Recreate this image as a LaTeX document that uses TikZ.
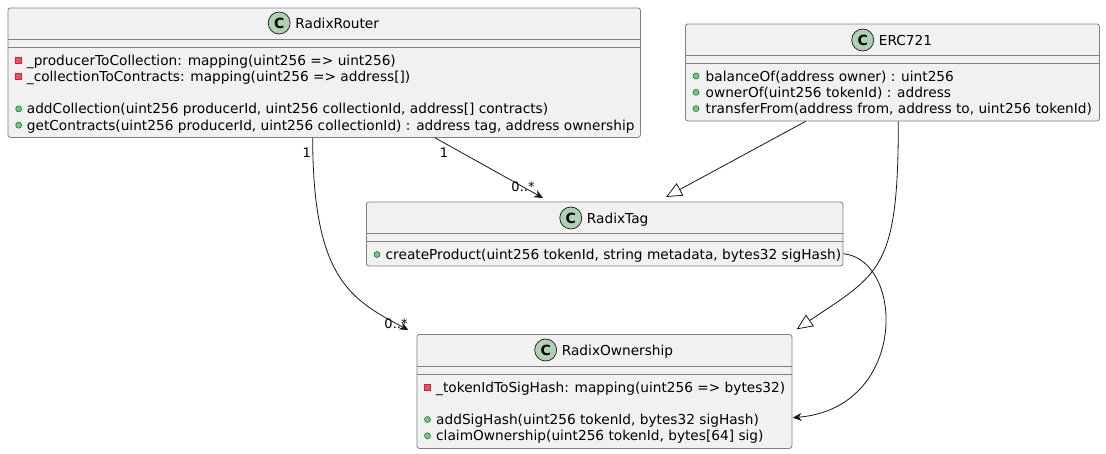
\documentclass[tikz,border=0pt]{standalone}
\usepackage{fontspec}
\setmainfont{DejaVu Sans}
\usetikzlibrary{arrows.meta,calc}
\definecolor{boxfill}{HTML}{F1F1F1}
\definecolor{boxline}{HTML}{808080}
\definecolor{edgeline}{HTML}{181818}
\definecolor{circfill}{HTML}{ADD1B2}
\definecolor{privfill}{HTML}{F24D5C}
\definecolor{privline}{HTML}{C82930}
\definecolor{pubfill}{HTML}{84BE84}
\definecolor{publine}{HTML}{038048}
\begin{document}
\begin{tikzpicture}[x=1pt,y=-1pt,
 classbox/.style={draw=boxline, fill=boxfill, line width=0.8pt, rounded corners=2.5pt, inner sep=0pt, anchor=north west},
 sepline/.style={draw=boxline, line width=0.8pt},
 ctitle/.style={inner sep=0pt, anchor=base, font=\fontsize{13.7}{16}\selectfont},
 cmark/.style={circle, draw=edgeline, fill=circfill, line width=0.7pt, minimum size=22pt, inner sep=0pt, font=\bfseries\fontsize{14}{16}\selectfont},
 member/.style={inner sep=0pt, anchor=base west, font=\fontsize{13.7}{16}\selectfont},
 privmark/.style={rectangle, draw=privline, fill=privfill, line width=0.6pt, minimum size=6pt, inner sep=0pt},
 pubmark/.style={circle, draw=publine, fill=pubfill, line width=0.6pt, minimum size=6pt, inner sep=0pt},
 conn/.style={draw=edgeline, line width=0.8pt},
 elabel/.style={inner sep=0pt, font=\fontsize{13}{15}\selectfont},
 assoc/.style={conn, -{Stealth[length=9pt,width=8pt,inset=3pt]}},
 inherit/.style={conn, -{Triangle[open,length=16pt,width=14pt]}},
]
\useasboundingbox (0,0) rectangle (1106,453);
\fill[white] (0,0) rectangle (1106,453);

% ---------------- RadixRouter
\node[classbox, minimum width=632.5pt, minimum height=129.5pt] (router) at (7.5,7.5) {};
\node[ctitle] (routerT) at (337.2,28) {RadixRouter};
\node[cmark] (routerC) at ($(routerT.base west)+(-16,-5)$) {C};
\draw[sepline] ($(router.north west)+(0,31.5)$) -- ($(router.north east)+(0,31.5)$);
\draw[sepline] ($(router.north west)+(0,39.5)$) -- ($(router.north east)+(0,39.5)$);
\node[privmark] (rm1) at (18.7,60) {};
\node[member] (r1) at (26.7,65) {\_producerToCollection: mapping(uint256 => uint256)};
\node[privmark] (rm2) at (18.7,76.3) {};
\node[member] (r2) at (26.7,81.3) {\_collectionToContracts: mapping(uint256 => address[])};
\node[pubmark] (rm3) at (18.7,108.9) {};
\node[member] (r3) at (26.7,113.9) {addCollection(uint256 producerId, uint256 collectionId, address[] contracts)};
\node[pubmark] (rm4) at (18.7,125.2) {};
\node[member] (r4) at (26.7,130.2) {getContracts(uint256 producerId, uint256 collectionId) : address tag, address ownership};

% ---------------- ERC721
\node[classbox, minimum width=414pt, minimum height=97pt] (erc) at (685,23.5) {};
\node[ctitle] (ercT) at (905.5,45) {ERC721};
\node[cmark] (ercC) at ($(ercT.base west)+(-16,-5)$) {C};
\draw[sepline] ($(erc.north west)+(0,31.5)$) -- ($(erc.north east)+(0,31.5)$);
\draw[sepline] ($(erc.north west)+(0,39.5)$) -- ($(erc.north east)+(0,39.5)$);
\node[pubmark] (em1) at (696,76) {};
\node[member] (e1) at (705.5,81) {balanceOf(address owner) : uint256};
\node[pubmark] (em2) at (696,92.3) {};
\node[member] (e2) at (705.5,97.3) {ownerOf(uint256 tokenId) : address};
\node[pubmark] (em3) at (696,108.6) {};
\node[member] (e3) at (705.5,113.6) {transferFrom(address from, address to, uint256 tokenId)};

% ---------------- RadixTag
\node[classbox, minimum width=476.5pt, minimum height=64pt] (tag) at (366,201.5) {};
\node[ctitle] (tagT) at (617.7,223) {RadixTag};
\node[cmark] (tagC) at ($(tagT.base west)+(-16,-5)$) {C};
\draw[sepline] ($(tag.north west)+(0,32)$) -- ($(tag.north east)+(0,32)$);
\draw[sepline] ($(tag.north west)+(0,40)$) -- ($(tag.north east)+(0,40)$);
\node[pubmark] (tm1) at (377,254.5) {};
\node[member] (t1) at (385.5,259.5) {createProduct(uint256 tokenId, string metadata, bytes32 sigHash)};

% ---------------- RadixOwnership
\node[classbox, minimum width=375pt, minimum height=114pt] (own) at (416.5,334) {};
\node[ctitle] (ownT) at (617.5,355) {RadixOwnership};
\node[cmark] (ownC) at ($(ownT.base west)+(-16,-5)$) {C};
\draw[sepline] ($(own.north west)+(0,32)$) -- ($(own.north east)+(0,32)$);
\draw[sepline] ($(own.north west)+(0,40)$) -- ($(own.north east)+(0,40)$);
\node[privmark] (om1) at (427.5,387) {};
\node[member] (o1) at (436,392) {\_tokenIdToSigHash: mapping(uint256 => bytes32)};
\node[pubmark] (om2) at (427.5,419.5) {};
\node[member] (o2) at (436,424.5) {addSigHash(uint256 tokenId, bytes32 sigHash)};
\node[pubmark] (om3) at (427.5,435.8) {};
\node[member] (o3) at (436,440.8) {claimOwnership(uint256 tokenId, bytes[64] sig)};

% ---------------- connector end points
\coordinate (rtS) at ($(router.south west)+(427.5,0)$);
\coordinate (rtE) at (543,198);
\coordinate (roS) at ($(router.south west)+(305.2,0)$);
\coordinate (roE) at (408.3,330);
\coordinate (etS) at ($(erc.south west)+(120.7,0)$);
\coordinate (etE) at (666,197);
\coordinate (eoS) at ($(erc.south west)+(213.3,0)$);
\coordinate (eoE) at (796.7,329.3);
\coordinate (toS) at ($(tag.east)+(0,19.8)$);
\coordinate (toE) at (792.7,417.7);

% ---------------- connectors
\draw[assoc] (rtS) -- (rtE);
\node[elabel] (l1) at (444,153) {1};
\node[elabel] (l2) at (523,187) {0..*};

\draw[assoc] (roS) .. controls (312.7,280) and (352,300) .. (roE);
\node[elabel] (l3) at (306.7,153) {1};
\node[elabel] (l4) at (396,324) {0..*};

\draw[inherit] (etS) -- (etE);
\draw[inherit] (eoS) .. controls (898.5,270) and (879.7,273.3) .. (eoE);

\draw[assoc] (toS) .. controls (905,260) and (908,408) .. (toE);
\end{tikzpicture}
\end{document}
